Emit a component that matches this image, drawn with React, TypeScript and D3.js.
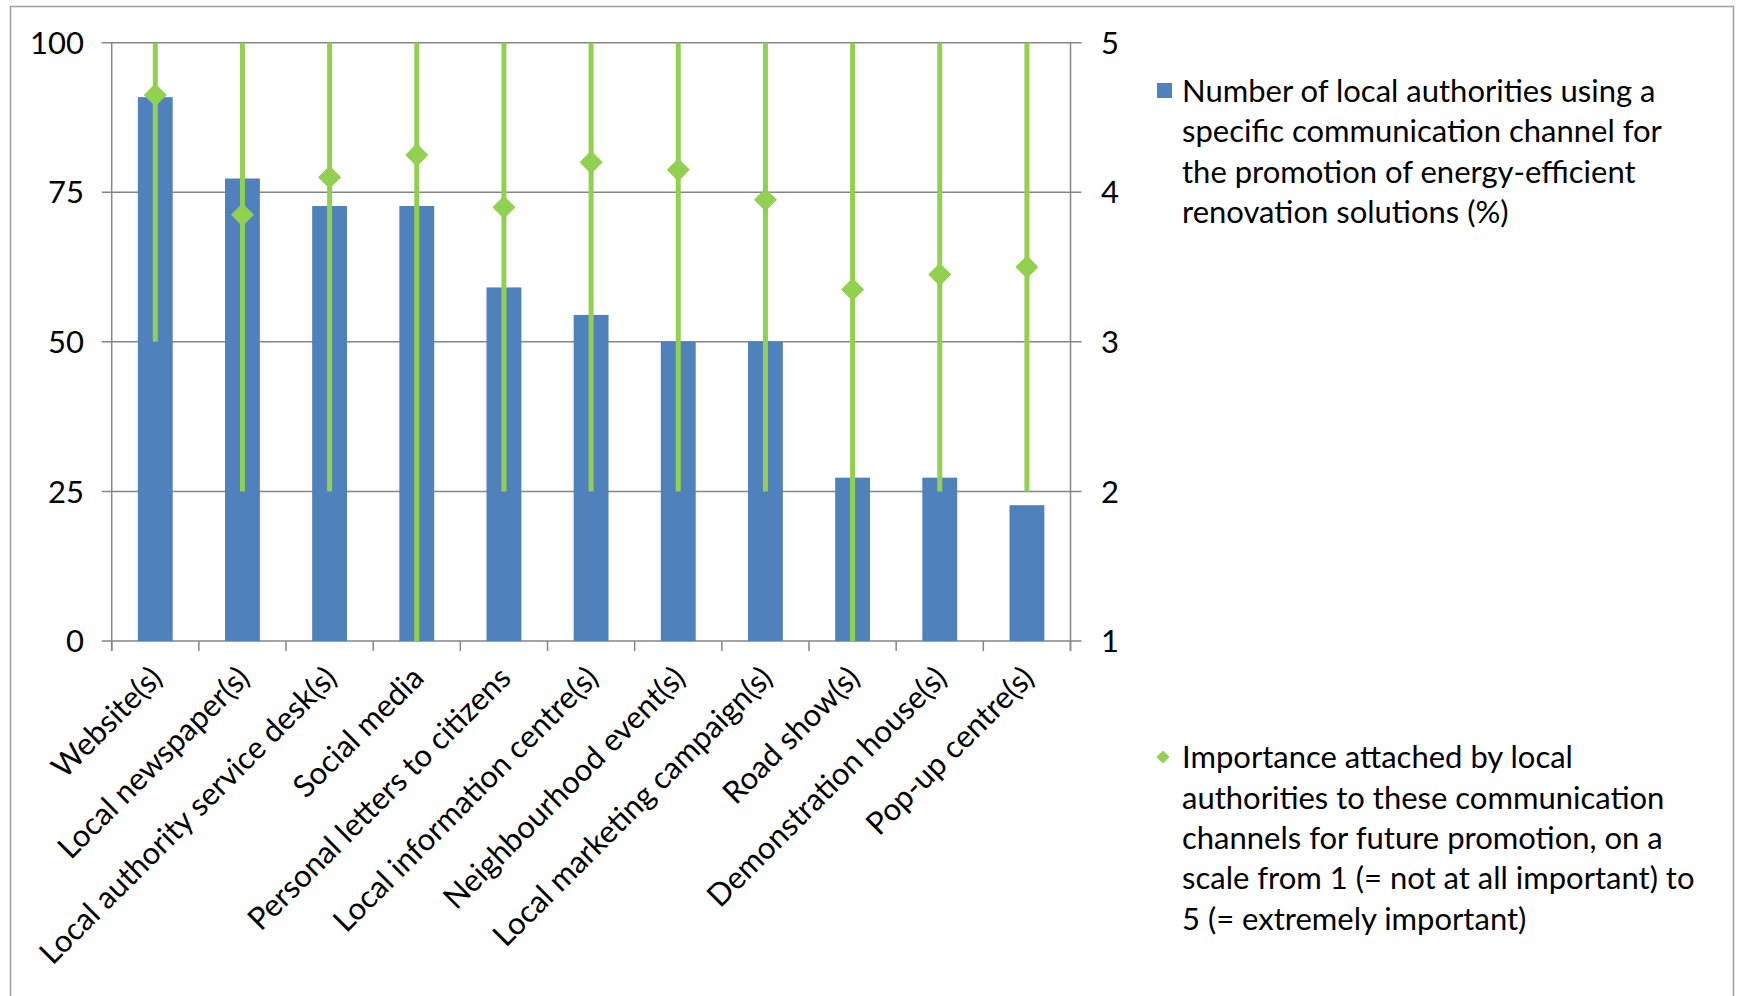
import React from "react";
import * as d3 from "d3";

const categories = [
  "Website(s)",
  "Local newspaper(s)",
  "Local authority service desk(s)",
  "Social media",
  "Personal letters to citizens",
  "Local information centre(s)",
  "Neighbourhood event(s)",
  "Local marketing campaign(s)",
  "Road show(s)",
  "Demonstration house(s)",
  "Pop-up centre(s)",
];

const usagePercent = [90.9, 77.3, 72.7, 72.7, 59.1, 54.5, 50, 50, 27.3, 27.3, 22.7];
const importanceMean = [4.65, 3.85, 4.1, 4.25, 3.9, 4.2, 4.15, 3.95, 3.35, 3.45, 3.5];
const importanceMin = [3, 2, 2, 1, 2, 2, 2, 2, 1, 2, 2];
const importanceMax = [5, 5, 5, 5, 5, 5, 5, 5, 5, 5, 5];

const leftTicks = [0, 25, 50, 75, 100];
const rightTicks = [1, 2, 3, 4, 5];

const legendBars = [
  "Number of local authorities using a",
  "specific communication channel for",
  "the promotion of energy-efficient",
  "renovation solutions (%)",
];
const legendImportance = [
  "Importance attached by local",
  "authorities to these communication",
  "channels for future promotion, on a",
  "scale from 1 (= not at all important) to",
  "5 (= extremely important)",
];

const W = 1737;
const H = 996;
const left = 111.7;
const right = 1070.5;
const top = 42.7;
const bottom = 641;
const FONT = "Lato, 'Open Sans', sans-serif";
const FS = 31;
const GRID = "#868686";
const BLUE = "#4F81BD";
const GREEN = "#92D050";

export default function App() {
  const x = d3.scaleBand<string>().domain(categories).range([left, right]).paddingInner(0.6).paddingOuter(0.3);
  const yL = d3.scaleLinear().domain([0, 100]).range([bottom, top]);
  const yR = d3.scaleLinear().domain([1, 5]).range([bottom, top]);
  const cx = (c: string) => (x(c) as number) + x.bandwidth() / 2;
  const boundaries = d3.range(categories.length + 1).map((i) => left + i * x.step());
  const diamond = d3.symbol().type(d3.symbolDiamond2).size(340)();
  const diamondSmall = d3.symbol().type(d3.symbolDiamond2).size(110)();

  return (
    <svg
      width={W}
      height={H}
      style={{ position: "absolute", left: 0, top: 0, background: "#fff" }}
      fontFamily={FONT}
    >
      <rect x={10.5} y={6.5} width={1723} height={1000} fill="#fff" stroke="#a0a0a0" strokeWidth={1.5} />

      {/* gridlines */}
      {leftTicks.map((t) => (
        <line key={"g" + t} x1={left - 10} x2={right + 11} y1={yL(t)} y2={yL(t)} stroke={GRID} strokeWidth={1.5} />
      ))}
      {/* axes */}
      <line x1={left} x2={left} y1={top} y2={bottom + 10} stroke={GRID} strokeWidth={1.5} />
      <line x1={right} x2={right} y1={top} y2={bottom + 10} stroke={GRID} strokeWidth={1.5} />
      {boundaries.map((b, i) => (
        <line key={"b" + i} x1={b} x2={b} y1={bottom} y2={bottom + 10} stroke={GRID} strokeWidth={1.5} />
      ))}

      {/* bars */}
      {categories.map((c, i) => (
        <rect key={"r" + c} x={x(c)} y={yL(usagePercent[i])} width={x.bandwidth()} height={bottom - yL(usagePercent[i])} fill={BLUE} />
      ))}

      {/* high-low lines */}
      {categories.map((c, i) => (
        <line key={"l" + c} x1={cx(c)} x2={cx(c)} y1={yR(importanceMax[i])} y2={yR(importanceMin[i])} stroke={GREEN} strokeWidth={5} />
      ))}
      {categories.map((c, i) => (
        <path key={"d" + c} d={diamond as string} transform={`translate(${cx(c)},${yR(importanceMean[i])})`} fill={GREEN} />
      ))}

      {/* left tick labels */}
      {leftTicks.map((t) => (
        <text key={"lt" + t} x={84} y={yL(t)} dy="0.36em" textAnchor="end" fontSize={FS} fill="#000">
          {t}
        </text>
      ))}
      {rightTicks.map((t) => (
        <text key={"rt" + t} x={1101} y={yR(t)} dy="0.36em" textAnchor="start" fontSize={FS} fill="#000">
          {t}
        </text>
      ))}

      {/* category labels */}
      {categories.map((c) => (
        <text
          key={"c" + c}
          transform={`translate(${cx(c) + 1},${bottom + 31}) rotate(-45)`}
          dy="0.36em"
          textAnchor="end"
          fontSize={FS}
          fill="#000"
        >
          {c}
        </text>
      ))}

      {/* legend */}
      <rect x={1157} y={83} width={15} height={15} fill={BLUE} />
      {legendBars.map((s, i) => (
        <text key={"lb" + i} x={1182} y={90.5 + i * 40.5} dy="0.36em" fontSize={FS} fill="#000">
          {s}
        </text>
      ))}
      <path d={diamondSmall as string} transform="translate(1163,757)" fill={GREEN} />
      {legendImportance.map((s, i) => (
        <text key={"li" + i} x={1182} y={757 + i * 40.4} dy="0.36em" fontSize={FS} fill="#000">
          {s}
        </text>
      ))}
    </svg>
  );
}
